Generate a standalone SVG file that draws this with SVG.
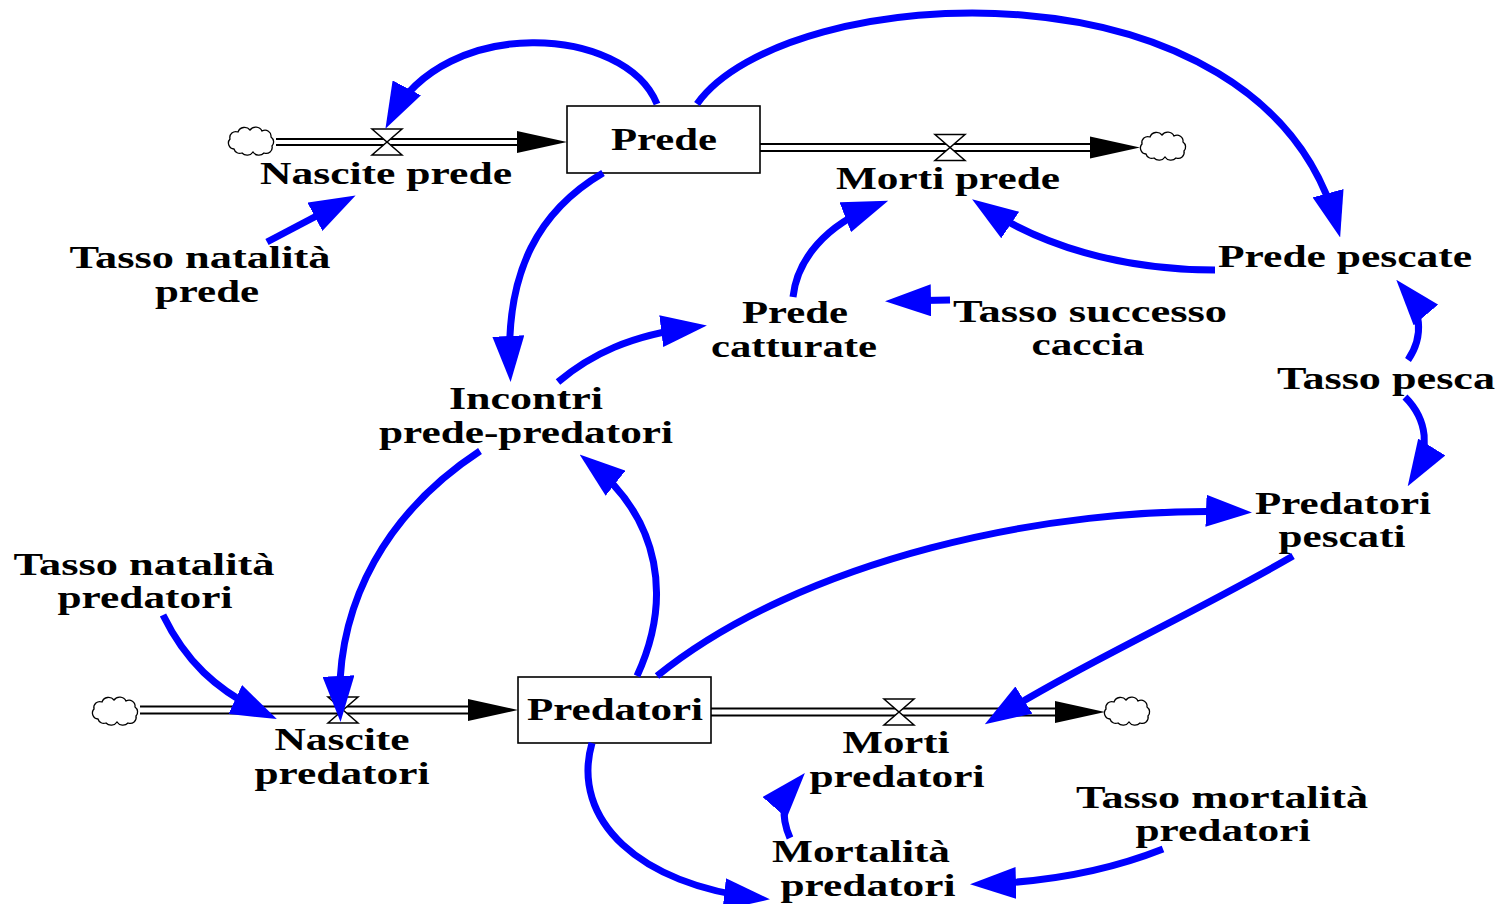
<svg xmlns="http://www.w3.org/2000/svg" width="1499" height="904" viewBox="0 0 1499 904">
  <style>
    .t { font-family: "Liberation Serif", "Times New Roman", serif; font-weight: bold; font-size: 32px; text-anchor: middle; fill: #000; }
    .stock { fill: #fff; stroke: #000; stroke-width: 1.6; }
    .pipe { stroke: #000; stroke-width: 2; fill: none; }
    .valve { fill: #fff; stroke: #000; stroke-width: 1.5; }
    .cloud { fill: #fff; stroke: #000; stroke-width: 1.3; }
    .link { fill: none; stroke: #0000ff; stroke-width: 7; marker-end: url(#ah); }
  </style>
  <defs>
    <marker id="ah" markerUnits="userSpaceOnUse" markerWidth="46" markerHeight="32" viewBox="0 0 46 32" refX="34" refY="16" orient="auto">
      <path d="M0,0 L46,16 L0,32 Z" fill="#0000ff"/>
    </marker>
    <path id="cloudShape" class="cloud" d="M-18,7 a6,6 0 0 1 -4,-10 a6,6 0 0 1 8,-7 a7,7 0 0 1 12,-2 a7,7 0 0 1 12,1 a6,6 0 0 1 9,6 a6,6 0 0 1 1,9 a6,6 0 0 1 -8,7 a7,7 0 0 1 -11,-1 a7,7 0 0 1 -11,1 a6,6 0 0 1 -8,-4 z"/>
    <path id="pipeHead" d="M-50,-11 L0,0 L-50,11 Z" fill="#000"/>
    <path id="valveShape" class="valve" d="M-15,-13 L15,-13 L0,0 Z M-15,13 L15,13 L0,0 Z"/>
  </defs>

  <rect width="1499" height="904" fill="#fff"/>

  <!-- material flow pipes -->
  <g id="pipes">
    <line class="pipe" x1="276" y1="139" x2="520" y2="139"/>
    <line class="pipe" x1="276" y1="145" x2="520" y2="145"/>
    <use href="#pipeHead" transform="translate(567,142)"/>

    <line class="pipe" x1="760" y1="144" x2="1095" y2="144"/>
    <line class="pipe" x1="760" y1="151" x2="1095" y2="151"/>
    <use href="#pipeHead" transform="translate(1140,147.5)"/>

    <line class="pipe" x1="140" y1="706.5" x2="472" y2="706.5"/>
    <line class="pipe" x1="140" y1="713.5" x2="472" y2="713.5"/>
    <use href="#pipeHead" transform="translate(518,710)"/>

    <line class="pipe" x1="711" y1="708.5" x2="1060" y2="708.5"/>
    <line class="pipe" x1="711" y1="715.5" x2="1060" y2="715.5"/>
    <use href="#pipeHead" transform="translate(1105,712)"/>
  </g>

  <!-- sources and sinks -->
  <g id="clouds">
    <use href="#cloudShape" transform="translate(252,142)"/>
    <use href="#cloudShape" transform="translate(1164,147)"/>
    <use href="#cloudShape" transform="translate(116,712)"/>
    <use href="#cloudShape" transform="translate(1128,712)"/>
  </g>

  <!-- stocks -->
  <g id="prede">
    <rect class="stock" x="567" y="106" width="193" height="67"/>
    <text class="t" x="664" y="150" textLength="106" lengthAdjust="spacingAndGlyphs">Prede</text>
  </g>
  <g id="predatori">
    <rect class="stock" x="518" y="677" width="193" height="66"/>
    <text class="t" x="615" y="720" textLength="176" lengthAdjust="spacingAndGlyphs">Predatori</text>
  </g>

  <!-- flows -->
  <g id="nascite-prede">
    <use href="#valveShape" transform="translate(387,142)"/>
    <text class="t" x="386" y="184" textLength="252" lengthAdjust="spacingAndGlyphs">Nascite prede</text>
  </g>
  <g id="morti-prede">
    <use href="#valveShape" transform="translate(950,147.5)"/>
    <text class="t" x="948" y="189" textLength="224" lengthAdjust="spacingAndGlyphs">Morti prede</text>
  </g>
  <g id="nascite-predatori">
    <use href="#valveShape" transform="translate(343,710)"/>
    <text class="t" x="342" y="750" textLength="135" lengthAdjust="spacingAndGlyphs">Nascite</text>
    <text class="t" x="342" y="784" textLength="175" lengthAdjust="spacingAndGlyphs">predatori</text>
  </g>
  <g id="morti-predatori">
    <use href="#valveShape" transform="translate(899,712)"/>
    <text class="t" x="896" y="753" textLength="107" lengthAdjust="spacingAndGlyphs">Morti</text>
    <text class="t" x="897" y="787" textLength="175" lengthAdjust="spacingAndGlyphs">predatori</text>
  </g>

  <!-- auxiliaries -->
  <g id="tasso-natalita-prede">
    <text class="t" x="200" y="268" textLength="261" lengthAdjust="spacingAndGlyphs">Tasso natalità</text>
    <text class="t" x="207" y="302" textLength="104" lengthAdjust="spacingAndGlyphs">prede</text>
  </g>
  <g id="prede-pescate">
    <text class="t" x="1345" y="267" textLength="254" lengthAdjust="spacingAndGlyphs">Prede pescate</text>
  </g>
  <g id="prede-catturate">
    <text class="t" x="795" y="323" textLength="106" lengthAdjust="spacingAndGlyphs">Prede</text>
    <text class="t" x="794" y="357" textLength="166" lengthAdjust="spacingAndGlyphs">catturate</text>
  </g>
  <g id="tasso-successo-caccia">
    <text class="t" x="1090" y="322" textLength="274" lengthAdjust="spacingAndGlyphs">Tasso successo</text>
    <text class="t" x="1088" y="355" textLength="113" lengthAdjust="spacingAndGlyphs">caccia</text>
  </g>
  <g id="tasso-pesca">
    <text class="t" x="1386" y="389" textLength="218" lengthAdjust="spacingAndGlyphs">Tasso pesca</text>
  </g>
  <g id="incontri">
    <text class="t" x="526" y="409" textLength="154" lengthAdjust="spacingAndGlyphs">Incontri</text>
    <text class="t" x="526" y="443" textLength="294" lengthAdjust="spacingAndGlyphs">prede-predatori</text>
  </g>
  <g id="predatori-pescati">
    <text class="t" x="1343" y="514" textLength="176" lengthAdjust="spacingAndGlyphs">Predatori</text>
    <text class="t" x="1342" y="547" textLength="127" lengthAdjust="spacingAndGlyphs">pescati</text>
  </g>
  <g id="tasso-natalita-predatori">
    <text class="t" x="144" y="575" textLength="261" lengthAdjust="spacingAndGlyphs">Tasso natalità</text>
    <text class="t" x="145" y="608" textLength="175" lengthAdjust="spacingAndGlyphs">predatori</text>
  </g>
  <g id="tasso-mortalita-predatori">
    <text class="t" x="1222" y="808" textLength="292" lengthAdjust="spacingAndGlyphs">Tasso mortalità</text>
    <text class="t" x="1223" y="841" textLength="175" lengthAdjust="spacingAndGlyphs">predatori</text>
  </g>
  <g id="mortalita-predatori">
    <text class="t" x="861" y="862" textLength="178" lengthAdjust="spacingAndGlyphs">Mortalità</text>
    <text class="t" x="868" y="896" textLength="175" lengthAdjust="spacingAndGlyphs">predatori</text>
  </g>

  <!-- causal links -->
  <g id="connectors">
    <path class="link" d="M657,104 C625,25 445,15 391,118"/>
    <path class="link" d="M697,104 C785,-20 1262,-50 1337,226"/>
    <path class="link" d="M603,173 C540,210 505,270 510,370"/>
    <path class="link" d="M558,382 C590,355 630,335 695,327"/>
    <path class="link" d="M793,297 C797,260 825,225 877,205"/>
    <path class="link" d="M1215,270 C1120,270 1040,245 982,206"/>
    <path class="link" d="M950,300 L897,301"/>
    <path class="link" d="M267,242 L345,201"/>
    <path class="link" d="M1408,360 C1425,335 1420,308 1404,289"/>
    <path class="link" d="M1405,397 C1428,420 1430,450 1414,476"/>
    <path class="link" d="M480,451 C390,510 335,600 340,710"/>
    <path class="link" d="M637,676 C672,600 662,520 589,462"/>
    <path class="link" d="M163,615 C185,660 215,690 266,714"/>
    <path class="link" d="M657,676 C800,560 1050,505 1240,512"/>
    <path class="link" d="M1293,556 C1200,610 1080,665 995,718"/>
    <path class="link" d="M592,743 C570,820 640,885 758,898"/>
    <path class="link" d="M790,838 C780,815 783,798 797,782"/>
    <path class="link" d="M1163,849 C1110,870 1050,882 982,884"/>
  </g>
</svg>
